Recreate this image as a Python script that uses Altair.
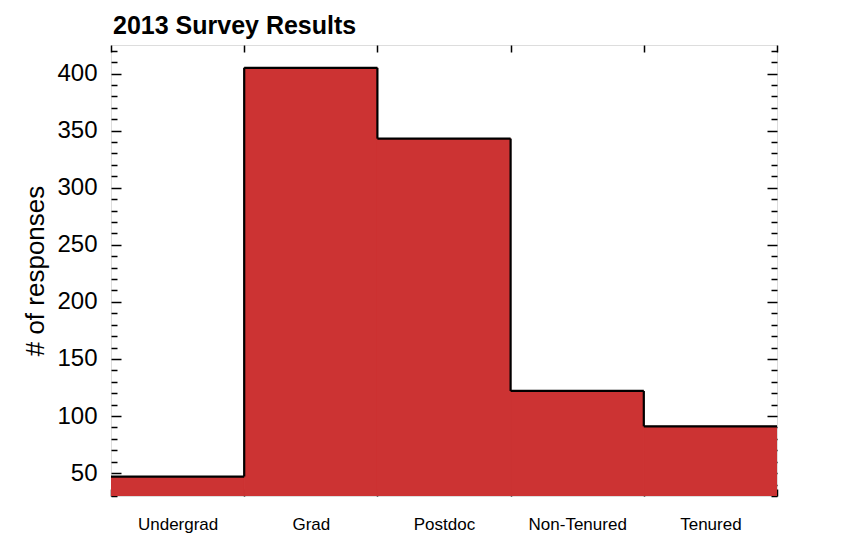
import altair as alt
import pandas as pd

categories = ["Undergrad", "Grad", "Postdoc", "Non-Tenured", "Tenured"]
responses = [47, 405, 343, 122, 91]

y_domain = [30, 425]
tick_values = list(range(30, 421, 10))
chart_title = "2013 Survey Results"
y_title = "# of responses"

FONT = "Liberation Sans"
RED = "#CC3333"

df = pd.DataFrame({"category": categories, "responses": responses})
steps = pd.DataFrame({
    "category": categories[:-1],
    "responses": responses[:-1],
    "next": responses[1:],
})

x_scale = alt.Scale(domain=categories, paddingInner=0, paddingOuter=0)
y_scale = alt.Scale(domain=y_domain, nice=False, zero=False)

major_test = "datum.value % 50 === 0"
y_tick_size = {"expr": f"{major_test} ? -10 : -6"}

x_axis_bottom = alt.Axis(
    orient="bottom", title=None, labelAngle=0, labelFont=FONT, labelFontSize=17,
    labelColor="black", tickBand="extent", tickSize={"expr": "-7"},
    tickColor="black", tickWidth=1.5, labelPadding=27, domain=False, grid=False,
)
x_axis_top = alt.Axis(
    orient="top", title=None, labels=False, tickBand="extent",
    tickSize={"expr": "-7"}, tickColor="black", tickWidth=1.5,
    domain=False, grid=False,
)
y_axis_left = alt.Axis(
    orient="left", values=tick_values,
    labelExpr=f"{major_test} ? datum.label : ''",
    labelOverlap=False, labelFont=FONT, labelFontSize=24, labelColor="black",
    labelPadding=24, tickSize=y_tick_size, tickColor="black", tickWidth=1.5,
    domain=False, grid=False, title=y_title, titleFont=FONT,
    titleFontSize=26, titleFontWeight="normal", titleColor="black",
    titlePadding=8,
)
y_axis_right = alt.Axis(
    orient="right", values=tick_values, labels=False, tickSize=y_tick_size,
    tickColor="black", tickWidth=1.5, domain=False, grid=False, title=None,
)

base = alt.Chart(df)

bars = base.mark_bar(color=RED, stroke=RED, strokeWidth=1, clip=True).encode(
    x=alt.X("category:N", sort=categories, scale=x_scale, axis=x_axis_bottom),
    y=alt.Y("responses:Q", scale=y_scale, axis=y_axis_left),
    y2=alt.datum(0),
)

tops = base.mark_bar(fill="transparent", stroke="black", strokeWidth=2.2).encode(
    x=alt.X("category:N", sort=categories, scale=x_scale, axis=x_axis_top),
    y=alt.Y("responses:Q", scale=y_scale, axis=y_axis_right),
    y2=alt.Y2("responses:Q"),
)

risers = alt.Chart(steps).mark_rule(color="black", strokeWidth=2.2).encode(
    x=alt.X("category:N", sort=categories, scale=x_scale, bandPosition=1, axis=None),
    y=alt.Y("responses:Q", scale=y_scale, axis=None),
    y2=alt.Y2("next:Q"),
)

chart = (
    alt.layer(bars, tops, risers)
    .resolve_axis(x="independent", y="independent")
    .properties(
        width=666,
        height=451,
        autosize="none",
        padding={"left": 103, "top": 37, "right": 20, "bottom": 60},
        title=alt.Title(
            chart_title, anchor="start", frame="group", font=FONT, fontSize=25,
            fontWeight="bold", color="black", baseline="alphabetic", offset=12,
            dx=2, dy=32,
        ),
    )
    .configure_view(stroke="black", strokeWidth=2)
    .configure(background="white")
)

chart.save("out.html", embed_options={"renderer": "svg", "actions": False})
